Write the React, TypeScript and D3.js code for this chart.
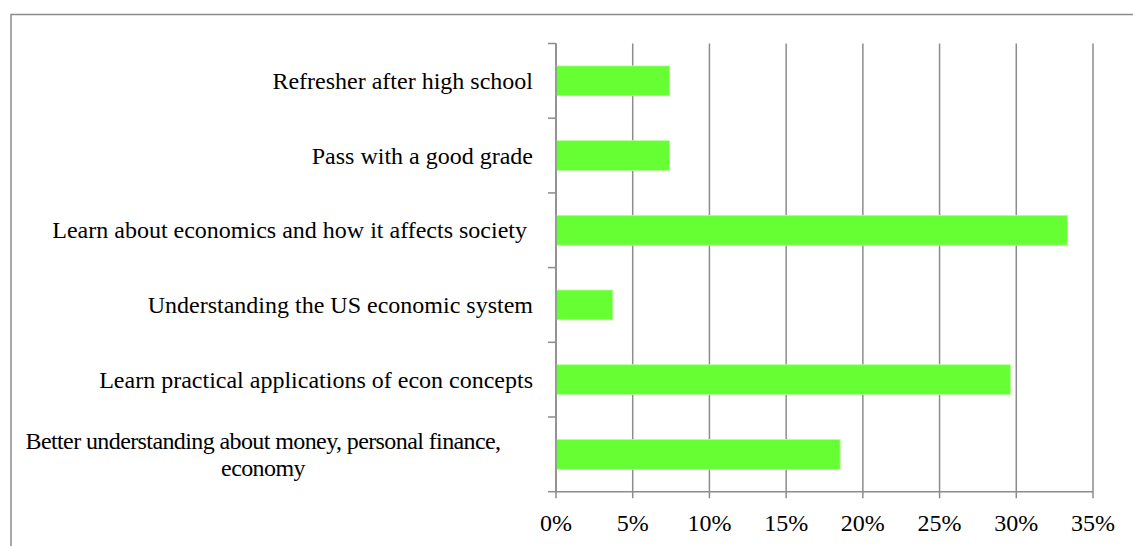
import React from "react";
import * as d3 from "d3";

// Data (top to bottom as drawn)
const categories: string[][] = [
  ["Refresher after high school"],
  ["Pass with a good grade"],
  ["Learn about economics and how it affects society "],
  ["Understanding the US economic system"],
  ["Learn practical applications of econ concepts"],
  ["Better understanding about money, personal finance,", "economy"],
];
const values: number[] = [0.0741, 0.0741, 0.3333, 0.037, 0.2963, 0.1852];
const xTicks: number[] = [0, 0.05, 0.1, 0.15, 0.2, 0.25, 0.3, 0.35];

const W = 1133;
const H = 546;
const plot = { left: 556, right: 1093, top: 43.5, bottom: 491.7 };
const FONT = "'Liberation Serif', 'Times New Roman', serif";
const GRID = "#8c8c8c";
const BAR = "#66ff33";
const WRAP_CENTER_X = 263;
const LABEL_RIGHT = 533;

export default function App() {
  const x = d3.scaleLinear().domain([0, 0.35]).range([plot.left, plot.right]);
  const y = d3
    .scaleBand<number>()
    .domain(categories.map((_, i) => i))
    .range([plot.top, plot.bottom])
    .paddingInner(0.6)
    .paddingOuter(0.3);
  const step = y.step();
  const fmt = d3.format(".0%");
  const lineH = 27;

  return (
    <svg
      width={W}
      height={H}
      style={{ position: "absolute", left: 0, top: 0, background: "#fff" }}
      fontFamily={FONT}
    >
      <rect x={0} y={0} width={W} height={H} fill="#fff" />
      {/* outer border (extends past image on right/bottom) */}
      <rect x={11} y={14.5} width={W + 20} height={H + 20} fill="none" stroke={GRID} strokeWidth={1.5} />

      {/* gridlines */}
      {xTicks.map((t) => (
        <line
          key={"g" + t}
          x1={x(t)}
          x2={x(t)}
          y1={plot.top}
          y2={plot.bottom + 6.5}
          stroke={GRID}
          strokeWidth={1.5}
        />
      ))}

      {/* bars */}
      {values.map((v, i) => (
        <rect
          key={"b" + i}
          x={x(0)}
          y={y(i)!}
          width={x(v) - x(0)}
          height={y.bandwidth()}
          fill={BAR}
          stroke="#b8ff9c"
          strokeWidth={0.8}
        />
      ))}

      {/* y axis */}
      <line x1={plot.left} x2={plot.left} y1={plot.top} y2={plot.bottom} stroke={GRID} strokeWidth={1.5} />
      {d3.range(categories.length + 1).map((k) => (
        <line
          key={"yt" + k}
          x1={plot.left - 8}
          x2={plot.left}
          y1={plot.top + k * step}
          y2={plot.top + k * step}
          stroke={GRID}
          strokeWidth={1.5}
        />
      ))}
      {/* x axis */}
      <line x1={plot.left} x2={plot.right} y1={plot.bottom} y2={plot.bottom} stroke={GRID} strokeWidth={1.5} />

      {/* x tick labels */}
      {xTicks.map((t) => (
        <text key={"xl" + t} x={x(t)} y={531} textAnchor="middle" fontSize={24} fill="#000">
          {fmt(t)}
        </text>
      ))}

      {/* category labels */}
      {categories.map((lines, i) => {
        const cy = (y(i) as number) + y.bandwidth() / 2;
        const n = lines.length;
        const wrapped = n > 1;
        return (
          <text
            key={"cl" + i}
            x={wrapped ? WRAP_CENTER_X : LABEL_RIGHT}
            textAnchor={wrapped ? "middle" : "end"}
            fontSize={24}
            fill="#000"
            letterSpacing={wrapped ? -0.6 : 0}
            style={{ whiteSpace: "pre" }}
          >
            {lines.map((ln, j) => (
              <tspan
                key={j}
                x={wrapped ? WRAP_CENTER_X : LABEL_RIGHT}
                y={cy + 8 + (j - (n - 1) / 2) * lineH}
              >
                {ln}
              </tspan>
            ))}
          </text>
        );
      })}
    </svg>
  );
}
